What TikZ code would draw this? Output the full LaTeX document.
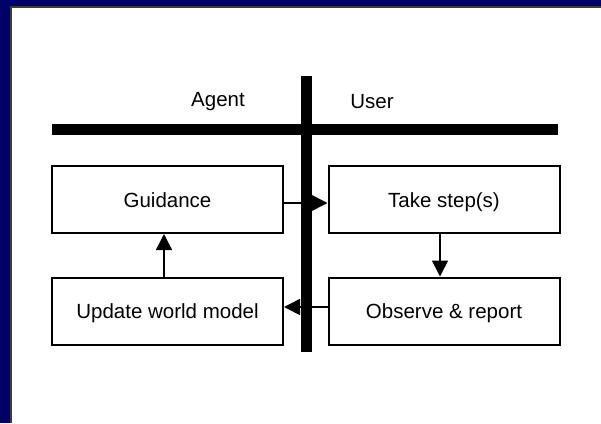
\documentclass[tikz,border=0pt]{standalone}
\usepackage{fontspec}
\setmainfont{Liberation Sans}
\usetikzlibrary{arrows.meta}
\definecolor{frameblue}{RGB}{0,0,102}
\definecolor{frameshade}{RGB}{60,60,60}
\tikzset{
  stepbox/.style={draw=black, line width=2pt, minimum width=231pt, minimum height=67pt,
    inner sep=0pt, text height=17pt, text depth=1.5pt, font=\fontsize{20.5}{24}\selectfont},
  flow/.style={line width=1.6pt, -{Triangle[length=16pt,width=16pt]}},
  bar/.style={line width=11pt},
  lane/.style={font=\fontsize{20.5}{24}\selectfont}
}
\begin{document}
\begin{tikzpicture}[x=1pt,y=-1pt]
  \useasboundingbox (0,0) rectangle (601,423);
  % frame on the left and top edges
  \fill[white] (0,0) rectangle (601,423);
  \fill[frameblue] (0,0) rectangle (10,423);
  \fill[frameblue] (0,0) rectangle (601,6);
  \draw[frameshade, line width=1.5pt] (10.75,423) -- (10.75,6.75) -- (601,6.75);

  % swim-lane separators
  \coordinate (hl) at (52,129);
  \coordinate (hr) at (558,129);
  \coordinate (vt) at (306,76);
  \coordinate (vb) at (306,352);
  \draw[bar] (hl) -- (hr);
  \draw[bar] (vt) -- (vb);

  \node[lane] (agent) at (218,101.5) {Agent};
  \node[lane] (user) at (372,101.5) {User};

  % process steps
  \node[stepbox] (guid) at (167.5,199.5) {Guidance};
  \node[stepbox] (take) at (444,199.5) {Take step(s)};
  \node[stepbox] (obs) at (444,311) {Observe \& report};
  \node[stepbox] (upd) at (167.5,311) {Update world model};

  % loop
  \draw[flow] ([yshift=-3.5pt]guid.east) -- ([yshift=-3.5pt]take.west);
  \draw[flow] ([xshift=-4pt]take.south) -- ([xshift=-4pt]obs.north);
  \draw[flow] ([yshift=4pt]obs.west) -- ([yshift=4pt]upd.east);
  \draw[flow] ([xshift=-3.5pt]upd.north) -- ([xshift=-3.5pt]guid.south);
\end{tikzpicture}
\end{document}
